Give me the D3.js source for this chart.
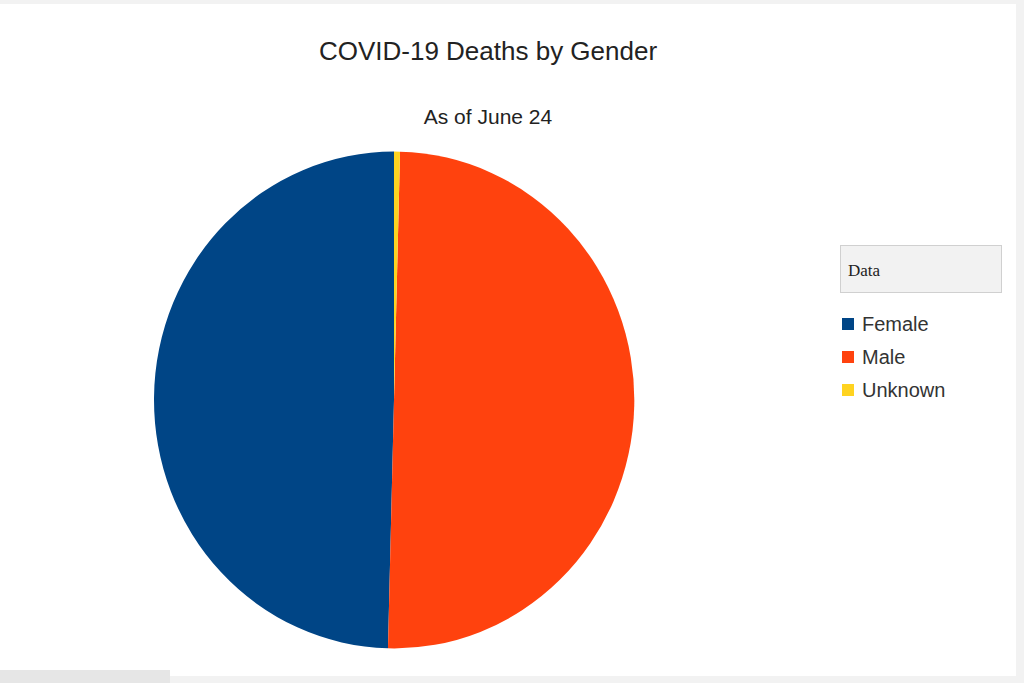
<!DOCTYPE html>
<html><head><meta charset="utf-8">
<script src="https://cdn.jsdelivr.net/npm/d3@7"></script>
<style>body{margin:0;background:#fff}svg{display:block}</style>
</head><body>
<script>
// data (percent share)
const categories = ["Female", "Male", "Unknown"];
const shares = [49.6, 50.0, 0.4];
const colors = ["#004586", "#ff420e", "#ffd320"];

const W = 1024, H = 683;
const svg = d3.select("body").append("svg").attr("width", W).attr("height", H);

// page frame
svg.append("rect").attr("x", 0).attr("y", 0).attr("width", W).attr("height", H).attr("fill", "#f2f2f2");
svg.append("rect").attr("x", 0).attr("y", 4).attr("width", 1016).attr("height", 672).attr("fill", "#fff");
svg.append("rect").attr("x", 0).attr("y", 670).attr("width", 170).attr("height", 13).attr("fill", "#e6e6e6");

svg.append("text").attr("x", 488).attr("y", 60).attr("text-anchor", "middle")
  .style("font", "26px 'Liberation Sans', Arial, sans-serif").attr("fill", "#222")
  .text("COVID-19 Deaths by Gender");
svg.append("text").attr("x", 488).attr("y", 124).attr("text-anchor", "middle")
  .style("font", "21px 'Liberation Sans', Arial, sans-serif").attr("fill", "#222")
  .text("As of June 24");

// pie: slices go counter-clockwise from the top
const pie = d3.pie().sort(null).startAngle(0).endAngle(-2 * Math.PI);
const arc = d3.arc().innerRadius(0).outerRadius(240);
const g = svg.append("g").attr("transform", "translate(394,400) scale(1,1.035)");
g.selectAll("path").data(pie(shares)).enter().append("path")
  .attr("d", arc).attr("fill", (d, i) => colors[i]);

// legend
svg.append("rect").attr("x", 840.5).attr("y", 245.5).attr("width", 161).attr("height", 47)
  .attr("fill", "#f2f2f2").attr("stroke", "#d0d0d0");
svg.append("text").attr("x", 848).attr("y", 276)
  .style("font", "17px 'Liberation Serif', 'DejaVu Serif', serif").attr("fill", "#222").text("Data");

const leg = svg.append("g").selectAll("g").data(categories).enter().append("g")
  .attr("transform", (d, i) => `translate(842,${318 + i * 33})`);
leg.append("rect").attr("width", 12).attr("height", 12).attr("fill", (d, i) => colors[i]);
leg.append("text").attr("x", 20).attr("y", 13)
  .style("font", "20px 'Liberation Sans', Arial, sans-serif").attr("fill", "#333").text(d => d);
</script>
</body></html>
